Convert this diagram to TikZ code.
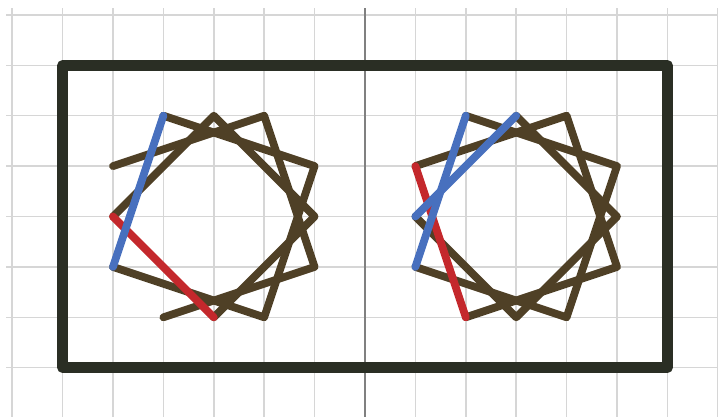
\documentclass[tikz,border=0pt]{standalone}
\definecolor{gridgray}{RGB}{214,214,214}
\definecolor{axisgray}{RGB}{128,128,128}
\definecolor{framecol}{RGB}{42,46,36}
\definecolor{stickbrown}{RGB}{79,64,38}
\definecolor{stickblue}{RGB}{72,112,190}
\definecolor{stickred}{RGB}{196,40,44}
\begin{document}
\begin{tikzpicture}[x=1cm,y=1cm,
  gridline/.style={draw=gridgray, line width=0.8pt},
  axisline/.style={draw=axisgray, line width=1.1pt},
  frameline/.style={draw=framecol, line width=5.9pt, line join=round},
  stick/.style={line width=4.4pt, line cap=round, line join=round},
  brownstick/.style={stick, draw=stickbrown},
  bluestick/.style={stick, draw=stickblue},
  redstick/.style={stick, draw=stickred}]
\useasboundingbox (-7.242,-3.958) rectangle (7.004,4.296);
% grid
\foreach \v in {-3,...,4} \draw[gridline] (-7.12,\v) -- (7.2,\v);
\foreach \u in {-7,...,7} \draw[gridline] (\u,4.13) -- (\u,-4.1);
\draw[axisline] (0,4.13) -- (0,-4.1);
% frame
\draw[frameline] (-6,-3) rectangle (6,3);
% left figure
\begin{scope}[shift={(-3,0)}]
  \draw[brownstick] (-2,0) -- (0,2) -- (2,0) -- (0,-2);
  \draw[brownstick] (-1,2) -- (2,1) -- (1,-2) -- (-2,-1);
  \draw[brownstick] (-2,1) -- (1,2) -- (2,-1) -- (-1,-2);
  \draw[redstick] (-2,0) -- (0,-2);
  \draw[bluestick] (-2,-1) -- (-1,2);
\end{scope}
% right figure
\begin{scope}[shift={(3,0)}]
  \draw[brownstick] (0,2) -- (2,0) -- (0,-2) -- (-2,0);
  \draw[brownstick] (-1,2) -- (2,1) -- (1,-2) -- (-2,-1);
  \draw[brownstick] (-2,1) -- (1,2) -- (2,-1) -- (-1,-2);
  \draw[redstick] (-1,-2) -- (-2,1);
  \draw[bluestick] (-2,-1) -- (-1,2);
  \draw[bluestick] (-2,0) -- (0,2);
\end{scope}
\end{tikzpicture}
\end{document}
